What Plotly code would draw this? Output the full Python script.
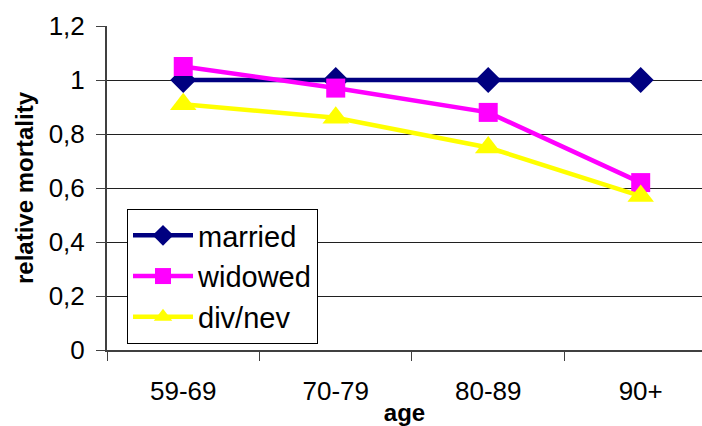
import plotly.graph_objects as go

ages = ["59-69", "70-79", "80-89", "90+"]
married = [1.0, 1.0, 1.0, 1.0]
widowed = [1.05, 0.97, 0.88, 0.62]
divnev = [0.91, 0.86, 0.75, 0.57]

series = [
    ("married", married, "#000080", "diamond", 20),
    ("widowed", widowed, "#FF00FF", "square", 19),
    ("div/nev", divnev, "#FFFF00", "triangle-up", 23),
]

fig = go.Figure()
for name, vals, col, sym, sz in series:
    fig.add_trace(go.Scatter(
        x=ages, y=vals, name=name, mode="lines+markers",
        line=dict(color=col, width=4.5),
        marker=dict(symbol=sym, size=sz, color=col, line=dict(width=0)),
    ))

L, R, T, B = 107, 0, 26, 76
W, H = 702, 426
pw = W - L - R
ph = H - T - B

font_family = "Liberation Sans, Arial, sans-serif"
fig.update_layout(
    width=W, height=H,
    margin=dict(l=L, r=R, t=T, b=B, autoexpand=False),
    paper_bgcolor="white", plot_bgcolor="white",
    separators=", ",
    font=dict(family=font_family, size=26, color="black"),
    showlegend=True,
    legend=dict(
        x=(127 - L) / pw, y=(ph - (209 - T)) / ph,
        xanchor="left", yanchor="top",
        font=dict(size=29, color="black"),
        bordercolor="black", borderwidth=1, bgcolor="white",
        itemwidth=60, tracegroupgap=0,
    ),
    xaxis=dict(
        type="category", range=[-0.5, 3.402], automargin=False,
        tickson="boundaries", ticks="outside", ticklen=9, tickcolor="#404040",
        showline=True, linecolor="#404040", linewidth=2,
        showgrid=False, zeroline=False,
        tickfont=dict(size=26), ticklabelstandoff=17,
        title=dict(text="<b>age</b>", font=dict(size=24), standoff=0),
    ),
    yaxis=dict(
        range=[0, 1.2], dtick=0.2, tick0=0, automargin=False,
        ticks="outside", ticklen=9, tickcolor="#404040",
        showline=True, linecolor="#404040", linewidth=2,
        showgrid=True, gridcolor="#202020", gridwidth=1,
        zeroline=False,
        tickfont=dict(size=26), ticklabelstandoff=6,
        title=dict(text="<b>relative mortality</b>", font=dict(size=24), standoff=8),
    ),
)
fig.write_html(
    "out.html",
    config={"displayModeBar": False},
    post_script="document.body.style.margin='0';document.body.style.overflow='hidden';",
)
